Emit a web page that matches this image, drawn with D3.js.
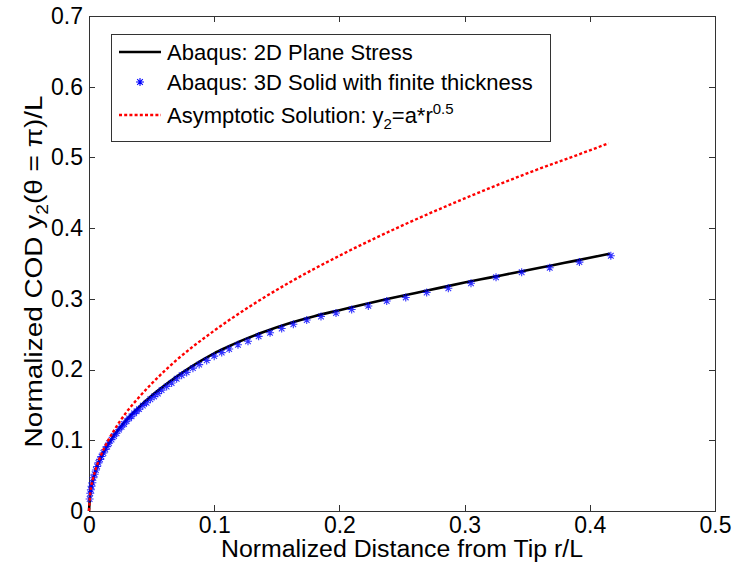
<!DOCTYPE html>
<html>
<head>
<meta charset="utf-8">
<script src="https://cdn.jsdelivr.net/npm/d3@7"></script>
<style>
  body { margin: 0; background: #fff; }
  text { font-family: Arial, "Liberation Sans", sans-serif; fill: #000; }
</style>
</head>
<body>
<div id="winArea"></div>
<script>
// Abaqus 2D plane stress (solid black line)
const r2D = [0, 0.001, 0.002, 0.003, 0.005, 0.007, 0.01, 0.015, 0.02, 0.03, 0.04, 0.05, 0.06, 0.07, 0.08, 0.09, 0.1,
    0.11, 0.12, 0.14, 0.16, 0.18, 0.2, 0.22, 0.24, 0.26, 0.28, 0.3, 0.32, 0.34, 0.36, 0.38, 0.4, 0.416];
const y2D = [0, 0.025, 0.035, 0.043, 0.056, 0.066, 0.078, 0.094, 0.107, 0.129, 0.147, 0.163, 0.177, 0.190, 0.202, 0.213, 0.223,
    0.2315, 0.2395, 0.2535, 0.2655, 0.2755, 0.284, 0.2925, 0.3005, 0.308, 0.3155, 0.323, 0.330, 0.337, 0.344, 0.351, 0.358, 0.364];

// Abaqus 3D solid with finite thickness (blue stars)
const r3D = [0.0005, 0.001, 0.0015, 0.002, 0.0027, 0.0035, 0.0045, 0.0055, 0.0065, 0.0075, 0.0088, 0.010, 0.0115, 0.013,
    0.0145, 0.016, 0.018, 0.020, 0.022, 0.024, 0.026, 0.028, 0.030, 0.032, 0.034, 0.036, 0.038, 0.040, 0.043, 0.046,
    0.049, 0.052, 0.055, 0.058, 0.062, 0.066, 0.070, 0.074, 0.078, 0.083, 0.088, 0.094, 0.100, 0.106, 0.112, 0.119,
    0.127, 0.1355, 0.1446, 0.1539, 0.1632, 0.1739, 0.1853, 0.1973, 0.2098, 0.2231, 0.2378, 0.2530, 0.2697, 0.2870,
    0.3051, 0.3251, 0.3456, 0.3680, 0.3917, 0.4168];
const y3D = [0.017, 0.025, 0.030, 0.035, 0.040, 0.047, 0.052, 0.058, 0.063, 0.068, 0.073, 0.077, 0.082, 0.087,
    0.091, 0.096, 0.101, 0.106, 0.110, 0.115, 0.119, 0.123, 0.127, 0.131, 0.134, 0.138, 0.141, 0.144, 0.149, 0.153,
    0.158, 0.162, 0.166, 0.171, 0.176, 0.181, 0.187, 0.192, 0.196, 0.202, 0.207, 0.213, 0.219, 0.224, 0.229, 0.235,
    0.240, 0.247, 0.252, 0.258, 0.264, 0.270, 0.275, 0.280, 0.285, 0.290, 0.297, 0.302, 0.309, 0.315,
    0.322, 0.3305, 0.3376, 0.344, 0.352, 0.361];

// Asymptotic solution (red dotted)
const rAsym = [0, 0.001, 0.003, 0.006, 0.01, 0.015, 0.02, 0.03, 0.04, 0.05, 0.07, 0.1, 0.13, 0.16, 0.2, 0.25, 0.3, 0.35, 0.4, 0.415];
const yAsym = [0, 0.0255, 0.0442, 0.0625, 0.0807, 0.0988, 0.114, 0.140, 0.161, 0.180, 0.2135, 0.255, 0.291, 0.323, 0.361, 0.4035, 0.442, 0.4775, 0.510, 0.520];

const xTicks = [0, 0.1, 0.2, 0.3, 0.4, 0.5];
const yTicks = [0, 0.1, 0.2, 0.3, 0.4, 0.5, 0.6, 0.7];

const legendLabels = ["Abaqus: 2D Plane Stress", "Abaqus: 3D Solid with finite thickness", "Asymptotic Solution: "];

const W = 733, H = 570;
const margin = { top: 16, right: 18, bottom: 59, left: 89 };

const svg = d3.select("#winArea").append("svg")
    .attr("width", W)
    .attr("height", H);

const xScale = d3.scaleLinear().domain([0, 0.5]).range([margin.left, W - margin.right]);
const yScale = d3.scaleLinear().domain([0, 0.7]).range([H - margin.bottom, margin.top]);

const fmt = d => d === 0 ? "0" : d3.format(".1f")(d);

// axes (box with inward ticks on all sides, like matlab)
const axCol = "#333";
svg.append("g")
    .attr("transform", `translate(0, ${yScale(0)})`)
    .call(d3.axisBottom(xScale).tickValues(xTicks).tickFormat(fmt).tickSizeInner(-6).tickSizeOuter(0).tickPadding(6))
    .call(g => g.selectAll("text").attr("font-size", 23).attr("fill", "#000"));
svg.append("g")
    .attr("transform", `translate(0, ${yScale(0.7)})`)
    .call(d3.axisTop(xScale).tickValues(xTicks).tickFormat("").tickSizeInner(-6).tickSizeOuter(0));
svg.append("g")
    .attr("transform", `translate(${xScale(0)}, 0)`)
    .call(d3.axisLeft(yScale).tickValues(yTicks).tickFormat(fmt).tickSizeInner(-6).tickSizeOuter(0).tickPadding(6))
    .call(g => g.selectAll("text").attr("font-size", 23).attr("fill", "#000"));
svg.append("g")
    .attr("transform", `translate(${xScale(0.5)}, 0)`)
    .call(d3.axisRight(yScale).tickValues(yTicks).tickFormat("").tickSizeInner(-6).tickSizeOuter(0));
svg.selectAll(".domain, .tick line").attr("stroke", axCol).attr("shape-rendering", "crispEdges");

// axis titles
svg.append("text")
    .attr("x", (xScale(0) + xScale(0.5)) / 2)
    .attr("y", 557)
    .attr("text-anchor", "middle")
    .attr("font-size", 23)
    .attr("textLength", 362)
    .attr("lengthAdjust", "spacingAndGlyphs")
    .text("Normalized Distance from Tip r/L");

const yl = svg.append("text")
    .attr("transform", `translate(42, ${(yScale(0) + yScale(0.7)) / 2 + 8}) rotate(-90)`)
    .attr("text-anchor", "middle")
    .attr("font-size", 23)
    .attr("textLength", 352)
    .attr("lengthAdjust", "spacingAndGlyphs");
yl.append("tspan").text("Normalized COD y");
yl.append("tspan").attr("font-size", 16).attr("dy", 6).text("2");
yl.append("tspan").attr("dy", -6).text("(\u03B8 = \u03C0)/L");

// curves
const line = d3.line().x(d => xScale(d[0])).y(d => yScale(d[1])).curve(d3.curveMonotoneX);

svg.append("path")
    .datum(r2D.map((r, i) => [r, y2D[i]]))
    .attr("d", line)
    .attr("fill", "none")
    .attr("stroke", "#000")
    .attr("stroke-width", 2.6);

const star = "M-4,0H4M0,-4V4M-2.8,-2.8L2.8,2.8M-2.8,2.8L2.8,-2.8";
svg.append("g")
    .selectAll("path")
    .data(r3D.map((r, i) => [r, y3D[i]]))
    .join("path")
    .attr("transform", d => `translate(${xScale(d[0])}, ${yScale(d[1])})`)
    .attr("d", star)
    .attr("fill", "none")
    .attr("stroke", "#0000ff")
    .attr("stroke-opacity", 0.8)
    .attr("stroke-width", 1.1);

svg.append("path")
    .datum(rAsym.map((r, i) => [r, yAsym[i]]))
    .attr("d", line)
    .attr("fill", "none")
    .attr("stroke", "#ff0000")
    .attr("stroke-width", 2.4)
    .attr("stroke-dasharray", "3,2.2");

// legend
const legend = svg.append("g").attr("transform", "translate(111, 34)");
legend.append("rect")
    .attr("width", 439)
    .attr("height", 107)
    .attr("fill", "#fff")
    .attr("stroke", axCol)
    .attr("shape-rendering", "crispEdges");

const rowY = [18, 48, 81];
legend.append("line").attr("x1", 8).attr("x2", 50).attr("y1", rowY[0]).attr("y2", rowY[0])
    .attr("stroke", "#000").attr("stroke-width", 2.6);
legend.append("path").attr("transform", `translate(29, ${rowY[1]})`).attr("d", star)
    .attr("fill", "none").attr("stroke", "#0000ff").attr("stroke-width", 1.1);
legend.append("line").attr("x1", 8).attr("x2", 50).attr("y1", rowY[2]).attr("y2", rowY[2])
    .attr("stroke", "#ff0000").attr("stroke-width", 2.4).attr("stroke-dasharray", "3,2.2");

legend.selectAll("text.lab")
    .data(legendLabels)
    .join("text")
    .attr("class", "lab")
    .attr("x", 56)
    .attr("y", (d, i) => rowY[i] + 8)
    .attr("font-size", 22)
    .each(function (d, i) {
        const t = d3.select(this);
        t.append("tspan").text(d);
        if (i === 2) {
            t.append("tspan").text("y");
            t.append("tspan").attr("font-size", 15).attr("dy", 6).text("2");
            t.append("tspan").attr("dy", -6).text("=a*r");
            t.append("tspan").attr("font-size", 15).attr("dy", -9).text("0.5");
        }
    });
</script>
</body>
</html>
